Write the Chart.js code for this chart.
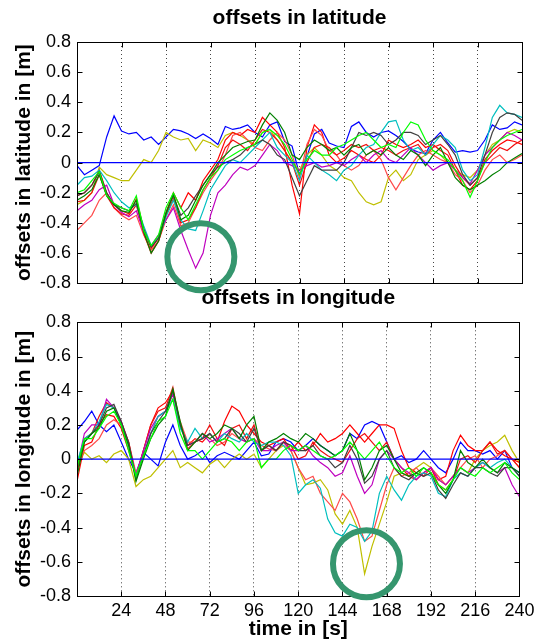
<!DOCTYPE html>
<html>
<head>
<meta charset="utf-8">
<title>offsets in latitude / longitude</title>
<script src="https://cdn.jsdelivr.net/npm/chart.js@4.4.1/dist/chart.umd.min.js"></script>
<style>
  html, body { margin: 0; padding: 0; background: #fff; }
  #wrap { position: relative; width: 539px; height: 644px; overflow: hidden; }
  .plot { position: absolute; left: 0; }
  #latBox { top: 0; }
  #lonBox { top: 280px; }
</style>
</head>
<body>
<div id="wrap">
  <div class="plot" id="latBox"><canvas id="latChart" width="539" height="300"></canvas></div>
  <div class="plot" id="lonBox"><canvas id="lonChart" width="539" height="364"></canvas></div>
</div>
<script>
// time axis in seconds (one reading every 4 s)
const time = [0, 4, 8, 12, 16, 20, 24, 28, 32, 36,
  40, 44, 48, 52, 56, 60, 64, 68, 72, 76,
  80, 84, 88, 92, 96, 100, 104, 108, 112, 116,
  120, 124, 128, 132, 136, 140, 144, 148, 152, 156,
  160, 164, 168, 172, 176, 180, 184, 188, 192, 196,
  200, 204, 208, 212, 216, 220, 224, 228, 232, 236,
  240];

const xTicks = [24, 48, 72, 96, 120, 144, 168, 192, 216, 240];
const xTickLabels = ["24", "48", "72", "96", "120", "144", "168", "192", "216", "240"];
const yTicks = [-0.8, -0.6, -0.4, -0.2, 0, 0.2, 0.4, 0.6, 0.8];
const yTickLabels = ["-0.8", "-0.6", "-0.4", "-0.2", "0", "0.2", "0.4", "0.6", "0.8"];

// reference line at zero
const zeroTime = [0, 240];
const zeroLine = [0, 0];

// offsets in latitude [m]
const latBlue = [-0.02, -0.08, -0.05, -0.02, 0.17, 0.31, 0.21, 0.19, 0.20, 0.15,
  0.17, 0.12, 0.17, 0.22, 0.21, 0.19, 0.16, 0.19, 0.16, 0.12,
  0.24, 0.22, 0.23, 0.25, 0.20, 0.17, 0.25, 0.27, 0.14, 0.11,
  -0.08, 0.04, 0.19, 0.22, 0.13, 0.11, 0.10, 0.24, 0.27, 0.20,
  0.17, 0.20, 0.21, 0.18, 0.14, 0.09, 0.07, 0.06, 0.15, 0.20,
  0.13, 0.07, 0.08, 0.07, 0.08, 0.15, 0.25, 0.22, 0.23, 0.27,
  0.25];
const latCyan = [-0.15, -0.10, -0.09, -0.05, -0.12, -0.20, -0.26, -0.30, -0.28, -0.42,
  -0.55, -0.50, -0.36, -0.25, -0.38, -0.44, -0.45, -0.32, -0.18, -0.10,
  -0.02, 0.02, 0.00, 0.05, 0.10, 0.15, 0.20, 0.10, 0.05, 0.00,
  -0.12, 0.05, 0.00, -0.05, -0.08, -0.12, -0.05, -0.02, 0.05, 0.10,
  0.12, 0.20, 0.27, 0.28, 0.15, 0.08, 0.10, 0.05, 0.12, 0.18,
  0.15, 0.10, -0.05, -0.12, -0.08, 0.10, 0.30, 0.38, 0.33, 0.32,
  0.30];
const latGray = [-0.22, -0.20, -0.15, -0.06, -0.20, -0.28, -0.30, -0.32, -0.27, -0.44,
  -0.56, -0.50, -0.33, -0.22, -0.35, -0.30, -0.22, -0.15, -0.08, -0.03,
  0.00, 0.02, 0.05, 0.10, 0.12, 0.15, 0.12, 0.05, 0.02, -0.10,
  -0.22, -0.12, -0.02, -0.05, -0.05, -0.05, 0.00, 0.10, 0.20, 0.18,
  0.20, 0.18, 0.12, 0.15, 0.20, 0.20, 0.18, 0.12, 0.15, 0.18,
  0.12, 0.05, -0.08, -0.15, -0.10, 0.05, 0.20, 0.30, 0.33, 0.32,
  0.28];
const latDarkGreen = [-0.25, -0.22, -0.18, -0.08, -0.22, -0.28, -0.32, -0.33, -0.25, -0.46,
  -0.60, -0.52, -0.34, -0.21, -0.38, -0.35, -0.25, -0.15, -0.08, 0.00,
  0.05, 0.10, 0.12, 0.14, 0.15, 0.25, 0.33, 0.28, 0.20, 0.05,
  0.02, 0.10, 0.15, 0.12, 0.08, 0.10, 0.05, 0.10, 0.12, 0.05,
  0.08, 0.05, 0.10, 0.05, 0.02, 0.08, 0.05, -0.02, 0.05, 0.10,
  0.00, -0.10, -0.15, -0.18, -0.15, -0.12, -0.08, -0.05, 0.00, 0.03,
  0.06];
const latGreen = [-0.20, -0.18, -0.12, -0.06, -0.22, -0.27, -0.30, -0.32, -0.22, -0.45,
  -0.55, -0.48, -0.30, -0.20, -0.30, -0.38, -0.28, -0.18, -0.10, -0.05,
  0.02, 0.05, 0.08, 0.10, 0.12, 0.20, 0.22, 0.18, 0.12, 0.02,
  -0.08, 0.02, 0.08, 0.05, 0.05, 0.10, 0.12, 0.15, 0.18, 0.20,
  0.15, 0.10, 0.12, 0.10, 0.20, 0.27, 0.25, 0.15, 0.08, 0.05,
  0.02, -0.05, -0.12, -0.23, -0.12, 0.00, 0.10, 0.15, 0.18, 0.20,
  0.22];
const latMagenta = [-0.32, -0.28, -0.25, -0.18, -0.15, -0.28, -0.33, -0.36, -0.32, -0.46,
  -0.55, -0.48, -0.38, -0.30, -0.45, -0.58, -0.70, -0.60, -0.35, -0.20,
  -0.15, -0.08, -0.03, -0.05, -0.02, 0.05, 0.12, 0.08, 0.00, -0.02,
  -0.05, -0.02, 0.00, -0.03, -0.02, 0.00, -0.02, 0.02, 0.05, 0.00,
  0.05, 0.08, 0.02, 0.00, 0.05, 0.10, 0.05, 0.00, -0.05, -0.02,
  0.00, -0.05, -0.10, -0.14, -0.05, 0.05, 0.10, 0.15, 0.20, 0.18,
  0.15];
const latYellow = [-0.28, -0.25, -0.20, -0.03, -0.08, -0.10, -0.12, -0.12, -0.05, 0.02,
  0.00, 0.08, 0.20, 0.17, 0.15, 0.16, 0.08, 0.15, 0.13, 0.10,
  0.18, 0.20, 0.18, 0.15, 0.12, 0.20, 0.22, 0.15, 0.08, 0.00,
  -0.05, 0.05, 0.10, 0.05, -0.02, -0.05, -0.10, -0.12, -0.20, -0.26,
  -0.28, -0.26, -0.10, -0.05, -0.12, -0.08, 0.02, 0.05, 0.08, 0.05,
  0.00, -0.05, -0.08, -0.10, -0.05, 0.05, 0.12, 0.15, 0.20, 0.22,
  0.20];
const latRed1 = [-0.22, -0.20, -0.15, -0.05, -0.20, -0.28, -0.32, -0.34, -0.24, -0.44,
  -0.57, -0.50, -0.33, -0.20, -0.30, -0.20, -0.25, -0.12, -0.05, 0.02,
  0.15, 0.20, 0.18, 0.22, 0.20, 0.30, 0.25, 0.20, 0.10, -0.15,
  -0.34, 0.10, 0.25, 0.20, 0.05, 0.00, 0.03, 0.08, 0.05, 0.02,
  0.00, 0.05, 0.15, 0.12, 0.10, 0.12, 0.15, 0.10, 0.12, 0.08,
  0.05, -0.05, -0.15, -0.18, -0.12, 0.02, 0.08, 0.12, 0.15, 0.14,
  0.12];
const latRed2 = [-0.45, -0.40, -0.35, -0.25, -0.20, -0.30, -0.35, -0.38, -0.35, -0.48,
  -0.58, -0.52, -0.38, -0.28, -0.42, -0.40, -0.30, -0.20, -0.12, -0.05,
  0.05, 0.18, 0.20, 0.15, 0.10, 0.08, 0.15, 0.20, 0.15, 0.05,
  -0.10, 0.12, 0.22, 0.18, 0.08, 0.05, -0.02, -0.05, -0.02, 0.05,
  0.08, 0.02, -0.10, -0.18, -0.10, -0.02, 0.05, 0.08, 0.05, 0.02,
  0.00, -0.08, -0.12, -0.20, -0.15, -0.05, 0.02, 0.05, 0.00, 0.02,
  0.05];
const latRed3 = [-0.26, -0.25, -0.20, -0.08, -0.22, -0.30, -0.34, -0.35, -0.28, -0.47,
  -0.60, -0.52, -0.35, -0.24, -0.40, -0.38, -0.30, -0.18, -0.10, -0.02,
  0.10, 0.15, 0.12, 0.08, 0.15, 0.22, 0.20, 0.15, 0.08, 0.00,
  -0.15, 0.00, 0.10, 0.12, 0.10, 0.05, 0.08, 0.12, 0.10, 0.12,
  0.08, 0.10, 0.08, 0.05, 0.08, 0.10, 0.12, 0.05, 0.10, 0.12,
  0.08, -0.02, -0.10, -0.15, -0.10, 0.00, 0.05, 0.10, 0.08, 0.12,
  0.15];

// offsets in longitude [m]
const lonBlue = [0.17, 0.22, 0.28, 0.20, 0.16, 0.20, 0.10, 0.00, -0.08, 0.04,
  0.00, -0.04, 0.10, 0.20, 0.08, 0.00, 0.02, 0.05, -0.02, 0.02,
  0.04, 0.02, 0.00, 0.05, 0.10, 0.02, 0.03, 0.10, 0.12, 0.10,
  0.05, 0.08, 0.12, 0.08, 0.05, 0.02, 0.05, 0.15, 0.12, 0.20,
  0.22, 0.20, 0.10, 0.00, 0.02, -0.02, 0.00, 0.05, 0.00, -0.05,
  -0.08, 0.00, 0.10, 0.05, 0.05, 0.03, 0.05, 0.00, 0.05, -0.05,
  -0.08];
const lonCyan = [-0.02, 0.12, 0.15, 0.22, 0.32, 0.30, 0.20, 0.08, -0.10, 0.02,
  0.15, 0.25, 0.28, 0.35, 0.18, 0.10, 0.18, 0.12, 0.15, 0.10,
  0.15, 0.12, 0.10, 0.15, 0.10, 0.08, 0.10, 0.10, 0.08, 0.02,
  -0.20, -0.15, -0.12, -0.17, -0.35, -0.43, -0.45, -0.38, -0.40, -0.48,
  -0.42, -0.20, -0.10, -0.18, -0.24, -0.15, -0.10, -0.08, -0.10, -0.20,
  -0.22, -0.12, -0.08, -0.10, -0.05, -0.02, -0.05, -0.02, 0.00, -0.05,
  -0.10];
const lonGray = [-0.05, 0.10, 0.15, 0.20, 0.30, 0.32, 0.22, 0.10, -0.12, 0.02,
  0.15, 0.22, 0.28, 0.40, 0.20, 0.08, 0.10, 0.12, 0.15, 0.10,
  0.12, 0.18, 0.15, 0.10, 0.18, 0.05, 0.08, 0.05, 0.10, 0.08,
  0.05, 0.05, 0.08, 0.02, 0.00, -0.05, -0.02, 0.08, 0.00, -0.14,
  -0.10, 0.00, 0.05, -0.05, -0.10, -0.12, -0.08, -0.10, -0.08, -0.18,
  -0.23, -0.15, -0.08, -0.10, -0.05, -0.05, -0.08, -0.10, -0.05, -0.05,
  -0.10];
const lonDarkGreen = [-0.10, 0.10, 0.15, 0.18, 0.28, 0.30, 0.20, 0.08, -0.13, 0.00,
  0.12, 0.20, 0.25, 0.41, 0.22, 0.05, 0.10, 0.15, 0.12, 0.15,
  0.20, 0.18, 0.12, 0.20, 0.25, 0.05, 0.10, 0.12, 0.15, 0.12,
  0.10, 0.15, 0.12, 0.08, 0.05, 0.02, 0.05, 0.15, 0.05, -0.12,
  -0.05, 0.05, 0.08, 0.00, -0.08, -0.10, -0.08, -0.05, -0.08, -0.15,
  -0.20, -0.12, 0.05, -0.02, -0.05, 0.00, -0.05, -0.08, -0.02, -0.05,
  -0.08];
const lonGreen = [-0.05, 0.12, 0.12, 0.18, 0.25, 0.28, 0.20, 0.05, -0.10, 0.02,
  0.12, 0.22, 0.25, 0.35, 0.15, 0.05, 0.05, 0.00, 0.05, 0.10,
  0.12, 0.10, 0.05, 0.10, 0.12, -0.05, 0.00, 0.00, 0.05, 0.08,
  0.05, 0.08, 0.05, 0.02, 0.00, 0.02, 0.05, 0.10, 0.05, 0.00,
  0.05, 0.10, 0.02, -0.05, -0.08, -0.05, -0.10, -0.05, -0.08, -0.15,
  -0.18, -0.12, -0.05, -0.08, -0.10, -0.05, -0.08, -0.05, -0.02, -0.08,
  -0.12];
const lonMagenta = [-0.05, 0.15, 0.20, 0.20, 0.35, 0.30, 0.22, 0.08, -0.10, 0.05,
  0.18, 0.25, 0.28, 0.38, 0.20, 0.08, 0.10, 0.15, 0.10, 0.12,
  0.15, 0.18, 0.12, 0.10, 0.12, 0.05, 0.05, 0.08, 0.10, 0.05,
  0.05, 0.08, 0.02, -0.02, -0.05, -0.10, -0.08, 0.02, -0.10, -0.20,
  -0.15, 0.00, 0.05, 0.00, -0.05, -0.08, -0.12, -0.08, -0.05, -0.12,
  -0.15, -0.10, -0.05, -0.08, -0.05, -0.02, -0.05, -0.08, -0.05, -0.15,
  -0.22];
const lonYellow = [-0.05, 0.04, 0.00, 0.02, -0.02, 0.03, 0.05, 0.00, -0.16, -0.12,
  -0.10, -0.05, 0.00, 0.05, -0.05, -0.02, -0.05, -0.08, -0.03, 0.00,
  -0.05, 0.00, 0.03, 0.00, 0.03, -0.05, 0.00, 0.05, 0.08, 0.05,
  -0.05, -0.15, -0.14, -0.12, -0.18, -0.32, -0.38, -0.30, -0.40, -0.67,
  -0.51, -0.38, -0.25, -0.10, -0.08, -0.10, -0.05, -0.02, -0.05, -0.12,
  -0.15, -0.10, -0.05, -0.08, 0.00, 0.05, 0.08, 0.10, 0.14, 0.05,
  -0.02];
const lonRed1 = [-0.13, 0.08, 0.10, 0.20, 0.26, 0.25, 0.18, 0.05, -0.10, 0.05,
  0.20, 0.30, 0.33, 0.40, 0.20, 0.08, 0.12, 0.10, 0.15, 0.10,
  0.22, 0.31, 0.28, 0.20, 0.15, 0.10, 0.08, 0.10, 0.12, 0.05,
  0.10, 0.05, 0.08, 0.15, 0.10, 0.12, 0.15, 0.20, 0.15, 0.10,
  0.15, 0.20, 0.20, 0.18, 0.05, -0.05, -0.08, -0.10, -0.05, -0.12,
  -0.10, 0.05, 0.14, 0.08, 0.05, 0.05, 0.10, 0.05, 0.02, 0.00,
  -0.02];
const lonRed2 = [-0.05, 0.05, 0.08, 0.12, 0.20, 0.23, 0.20, 0.10, -0.08, 0.02,
  0.15, 0.25, 0.28, 0.38, 0.22, 0.10, 0.10, 0.15, 0.12, 0.08,
  0.10, 0.15, 0.12, 0.10, 0.12, 0.08, 0.06, 0.05, 0.10, 0.05,
  -0.05, -0.12, -0.10, -0.20, -0.25, -0.30, -0.20, -0.25, -0.35, -0.48,
  -0.45, -0.30, -0.15, -0.05, -0.10, -0.08, -0.05, -0.10, -0.05, -0.10,
  -0.15, -0.10, -0.05, 0.00, 0.02, -0.05, 0.00, 0.02, 0.05, 0.00,
  -0.05];
const lonRed3 = [-0.08, 0.12, 0.15, 0.25, 0.33, 0.30, 0.22, 0.10, -0.10, 0.05,
  0.20, 0.28, 0.30, 0.42, 0.20, 0.06, 0.10, 0.12, 0.20, 0.12,
  0.08, 0.18, 0.20, 0.12, 0.20, 0.05, 0.08, 0.05, 0.10, 0.08,
  0.00, 0.02, 0.10, 0.05, 0.02, 0.00, -0.02, 0.05, 0.12, 0.15,
  0.10, 0.05, 0.10, 0.00, -0.05, -0.10, -0.12, -0.08, -0.05, -0.15,
  -0.18, -0.12, 0.00, 0.02, -0.02, 0.05, 0.10, 0.03, 0.05, 0.00,
  -0.05];

// the two highlighted spots (time, offset)
const latMarks = [{ x: 66.8, y: -0.624 }];
const lonMarks = [{ x: 157, y: -0.611 }];

const colors = {
  blue: "#0000ff", cyan: "#00bfbf", gray: "#404040", darkGreen: "#008000",
  green: "#00ff00", magenta: "#bf00bf", yellow: "#bfbf00",
  red1: "#ff0000", red2: "#ff4a4a", red3: "#f01010", ring: "#35966e"
};

Chart.defaults.font.family = "'Liberation Sans', Arial, sans-serif";
Chart.defaults.color = "#000";

function series(xs, vals, color) {
  return {
    data: xs.map((t, i) => ({ x: t, y: vals[i] })),
    borderColor: color,
    borderWidth: 1.2,
    pointRadius: 0,
    tension: 0,
    fill: false
  };
}

// box, inside ticks and the green rings
const frame = {
  id: "frame",
  afterDatasetsDraw(chart) {
    const { ctx, chartArea: a, scales } = chart;
    const L = Math.round(a.left) + 0.5, R = Math.round(a.right) + 0.5;
    const T = Math.round(a.top) + 0.5, B = Math.round(a.bottom) + 0.5;
    ctx.save();
    ctx.setLineDash([]);
    ctx.strokeStyle = "#000";
    ctx.lineWidth = 1;
    ctx.strokeRect(L, T, R - L, B - T);
    ctx.beginPath();
    yTicks.forEach(v => {
      const y = Math.round(scales.y.getPixelForValue(v)) + 0.5;
      ctx.moveTo(L, y); ctx.lineTo(L + 5, y);
      ctx.moveTo(R, y); ctx.lineTo(R - 5, y);
    });
    xTicks.forEach(v => {
      const x = Math.round(scales.x.getPixelForValue(v)) + 0.5;
      ctx.moveTo(x, B); ctx.lineTo(x, B - 5);
      ctx.moveTo(x, T); ctx.lineTo(x, T + 5);
    });
    ctx.stroke();

    const marks = chart.options.plugins.frame.marks || [];
    ctx.strokeStyle = colors.ring;
    ctx.lineWidth = 6;
    marks.forEach(m => {
      ctx.beginPath();
      ctx.arc(scales.x.getPixelForValue(m.x), scales.y.getPixelForValue(m.y), 33.5, 0, Math.PI * 2);
      ctx.stroke();
    });
    ctx.restore();
  }
};

function makeChart(id, title, yTitle, list, marks, bottom) {
  const datasets = [series(zeroTime, zeroLine, colors.blue)];
  list.forEach(s => datasets.push(series(time, s[0], s[1])));

  return new Chart(document.getElementById(id), {
    type: "line",
    data: { datasets },
    plugins: [frame],
    options: {
      responsive: false,
      animation: false,
      events: [],
      layout: { padding: { left: 0, right: 17, top: 0, bottom: 0 } },
      plugins: {
        legend: { display: false },
        tooltip: { enabled: false },
        title: {
          display: true,
          text: title,
          fullSize: false,
          font: { size: 21, weight: "bold" },
          padding: bottom ? { top: 6.1, bottom: 11 } : { top: 5.8, bottom: 11 }
        },
        frame: { marks }
      },
      scales: {
        x: {
          type: "linear",
          min: 0,
          max: 240,
          afterBuildTicks: s => { s.ticks = xTicks.map(v => ({ value: v })); },
          afterFit: s => { s.height = bottom ? 48 : 10.5; },
          ticks: {
            display: bottom,
            autoSkip: false,
            maxRotation: 0,
            padding: 4.5,
            font: { size: 18 },
            callback: (v, i) => xTickLabels[i]
          },
          grid: { color: "#444", lineWidth: 1, drawTicks: false },
          border: { display: false, dash: [1, 3] },
          title: {
            display: bottom,
            text: "time in [s]",
            font: { size: 21, weight: "bold" },
            padding: { top: 0, bottom: 1.7 }
          }
        },
        y: {
          min: -0.8,
          max: 0.8,
          afterBuildTicks: s => { s.ticks = yTicks.map(v => ({ value: v })); },
          afterFit: s => { s.width = 77; },
          ticks: {
            padding: 6,
            font: { size: 18 },
            callback: (v, i) => yTickLabels[i]
          },
          grid: { display: false, drawTicks: false },
          border: { display: false },
          title: {
            display: true,
            text: yTitle,
            font: { size: 21, weight: "bold" },
            padding: { top: 12, bottom: 0 }
          }
        }
      }
    }
  });
}

makeChart("latChart", "offsets in latitude", "offsets in latitude in [m]", [
  [latGreen, colors.green], [latDarkGreen, colors.darkGreen], [latGray, colors.gray],
  [latCyan, colors.cyan], [latMagenta, colors.magenta], [latRed3, colors.red3],
  [latRed2, colors.red2], [latRed1, colors.red1], [latYellow, colors.yellow],
  [latBlue, colors.blue]
], latMarks, false);

makeChart("lonChart", "offsets in longitude", "offsets in longitude in [m]", [
  [lonGreen, colors.green], [lonDarkGreen, colors.darkGreen], [lonGray, colors.gray],
  [lonCyan, colors.cyan], [lonMagenta, colors.magenta], [lonRed3, colors.red3],
  [lonRed2, colors.red2], [lonRed1, colors.red1], [lonYellow, colors.yellow],
  [lonBlue, colors.blue]
], lonMarks, true);
</script>
</body>
</html>
